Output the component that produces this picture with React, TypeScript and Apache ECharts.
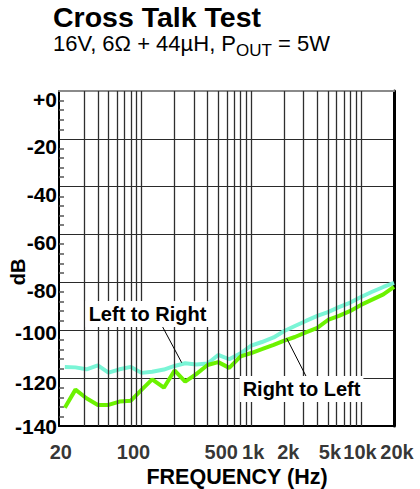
import React, { useEffect, useRef } from 'react';
import * as echarts from 'echarts';

// Frequencies (Hz), 1/10-decade points
const FREQS = [20, 25, 31.5, 40, 50, 63, 80, 100, 125, 160, 200, 250, 315, 400, 500, 630, 800, 1000, 1250, 1600, 2000, 2500, 3150, 4000, 5000, 6300, 8000, 10000, 12500, 16000, 20000];
// Cross talk (dB)
const LEFT_TO_RIGHT = [-115.3, -115.5, -116.3, -114.7, -117.7, -116.3, -115.3, -117.8, -117.3, -116.4, -114.9, -113.8, -114.3, -113.9, -110.3, -112.1, -109.6, -106.4, -104.9, -103.0, -100.3, -98.2, -96.1, -94.0, -92.4, -90.3, -88.4, -86.1, -84.0, -81.9, -80.2];
const RIGHT_TO_LEFT = [-132.4, -124.8, -128.4, -131.2, -131.2, -129.8, -129.4, -124.9, -120.5, -124.0, -116.8, -121.5, -118.3, -114.5, -113.3, -115.7, -110.9, -109.5, -107.9, -106.1, -104.3, -102.8, -100.9, -99.0, -95.7, -94.0, -91.9, -89.4, -87.3, -85.0, -81.9];

// Vertical grid lines (Hz)
const GRID_FREQS = [30, 40, 50, 60, 70, 80, 90, 100, 200, 300, 400, 500, 600, 700, 800, 900, 1000, 2000, 3000, 4000, 5000, 6000, 7000, 8000, 9000, 10000];
// X tick labels
const X_TICKS = [20, 100, 500, 1000, 2000, 5000, 10000, 20000];
const X_TICK_LABELS = ['20', '100', '500', '1k', '2k', '5k', '10k', '20k'];
// Y axis
const Y_MIN = -140;
const Y_MAX = 0;
const Y_STEP = 20;

// styling nudges (px)
const X_LABEL_NUDGE = [-4, -8, 3, 2, 4, 2, -1, 3];

const FONT = '"Liberation Sans", Arial, Helvetica, sans-serif';

function measure(text: string, size: number, weight = 'normal') {
  const ctx = document.createElement('canvas').getContext('2d')!;
  ctx.font = `${weight} ${size}px ${FONT}`;
  return ctx.measureText(text).width;
}

export default function App() {
  const ref = useRef<HTMLDivElement>(null);

  useEffect(() => {
    const el = ref.current!;
    const chart = echarts.init(el, null, { renderer: 'svg' });

    const lr = FREQS.map((f, i) => [f, LEFT_TO_RIGHT[i]]);
    const rl = FREQS.map((f, i) => [f, RIGHT_TO_LEFT[i]]);

    const sub1 = '16V, 6Ω + 44µH, P';
    const sub2 = 'OUT';
    const sub3 = ' = 5W';
    const w1 = measure(sub1, 22);
    const w2 = measure(sub2, 17);

    const yShift = (v: number) => {
      if (v >= -80) return 'a';
      if (v === -100) return 'b';
      if (v === -120) return 'c';
      return 'd';
    };
    const ylab = { fontFamily: FONT, fontWeight: 'bold' as const, fontSize: 21, color: '#000' };

    const option: any = {
      animation: false,
      backgroundColor: '#fff',
      grid: { left: 59, right: 26, top: 91, bottom: 63, containLabel: false },
      xAxis: [
        {
          type: 'log',
          logBase: 10,
          min: 17.7,
          max: 20000,
          axisLine: { show: true, onZero: false, lineStyle: { color: '#000', width: 2 } },
          axisTick: { show: false },
          axisLabel: { show: false },
          splitLine: { show: false },
          minorTick: { show: false },
          minorSplitLine: { show: false },
        },
        {
          type: 'log',
          logBase: 10,
          min: 17.7,
          max: 20000,
          position: 'top',
          axisLine: { show: true, onZero: false, lineStyle: { color: '#8a8a8a', width: 2 } },
          axisTick: { show: false },
          axisLabel: { show: false },
          splitLine: { show: false },
        },
      ],
      yAxis: [
        {
          type: 'value',
          min: Y_MIN,
          max: Y_MAX,
          interval: Y_STEP,
          axisLine: { show: true, onZero: false, lineStyle: { color: '#000', width: 2 } },
          axisTick: { show: false, inside: true },
          minorTick: { show: true, splitNumber: 5, length: 5, lineStyle: { color: '#555', width: 1.5 } },
          splitLine: { show: true, lineStyle: { color: '#2a2a2a', width: 1.2 } },
          axisLabel: {
            margin: 2,
            ...ylab,
            formatter: (v: number) => `{${yShift(v)}|${v === 0 ? '+0' : String(v)}}`,
            rich: {
              a: { ...ylab, padding: [16, 0, 0, 0] },
              b: { ...ylab, padding: [4, 0, 0, 0] },
              c: { ...ylab, padding: [8, 0, 0, 0] },
              d: { ...ylab },
            },
          },
        },
        {
          type: 'value',
          min: Y_MIN,
          max: Y_MAX,
          position: 'right',
          axisLine: { show: true, onZero: false, lineStyle: { color: '#000', width: 3 } },
          axisTick: { show: false },
          axisLabel: { show: false },
          splitLine: { show: false },
        },
      ],
      series: [
        {
          name: 'grid',
          type: 'line',
          data: [],
          z: 1,
          silent: true,
          markLine: {
            silent: true,
            symbol: ['none', 'none'],
            label: { show: false },
            emphasis: { disabled: true },
            lineStyle: { color: '#2e2e2e', width: 1.3, type: 'solid' },
            data: GRID_FREQS.map((f) => ({ xAxis: f })),
          },
        },
        {
          name: 'Left to Right',
          type: 'line',
          data: lr,
          showSymbol: false,
          symbol: 'none',
          z: 3,
          lineStyle: { color: '#7af5d6', width: 4 },
        },
        {
          name: 'Right to Left',
          type: 'line',
          data: rl,
          showSymbol: false,
          symbol: 'none',
          z: 4,
          lineStyle: { color: '#6cf200', width: 4 },
        },
        {
          name: 'xlabels',
          type: 'scatter',
          clip: false,
          silent: true,
          symbolSize: 1,
          itemStyle: { color: 'rgba(0,0,0,0)' },
          z: 5,
          label: {
            show: true,
            position: 'inside',
            fontFamily: FONT,
            fontWeight: 'bold',
            fontSize: 20,
            color: '#000',
            formatter: (p: any) => X_TICK_LABELS[p.dataIndex],
          },
          data: X_TICKS.map((f, i) => ({
            value: [f, Y_MIN],
            label: { offset: [X_LABEL_NUDGE[i], 25.5] },
          })),
        },
      ],
      graphic: [
        {
          type: 'text', z: 100, x: 53, y: 16.5,
          style: { text: 'Cross Talk Test', fontFamily: FONT, fontWeight: 'bold', fontSize: 28.5, fill: '#000', align: 'left', verticalAlign: 'middle' },
        },
        {
          type: 'text', z: 100, x: 53, y: 43.5,
          style: { text: sub1, fontFamily: FONT, fontSize: 22, fill: '#000', align: 'left', verticalAlign: 'middle' },
        },
        {
          type: 'text', z: 100, x: 53 + w1, y: 50.5,
          style: { text: sub2, fontFamily: FONT, fontSize: 17, fill: '#000', align: 'left', verticalAlign: 'middle' },
        },
        {
          type: 'text', z: 100, x: 53 + w1 + w2, y: 43.5,
          style: { text: sub3, fontFamily: FONT, fontSize: 22, fill: '#000', align: 'left', verticalAlign: 'middle' },
        },
        {
          type: 'text', z: 100, x: 17.5, y: 272, rotation: Math.PI / 2,
          style: { text: 'dB', fontFamily: FONT, fontWeight: 'bold', fontSize: 20, fill: '#000', align: 'center', verticalAlign: 'middle' },
        },
        {
          type: 'text', z: 100, x: 237, y: 477,
          style: { text: 'FREQUENCY (Hz)', fontFamily: FONT, fontWeight: 'bold', fontSize: 21.5, fill: '#000', align: 'center', verticalAlign: 'middle' },
        },
        {
          type: 'line', z: 100,
          shape: { x1: 160, y1: 322, x2: 181.7, y2: 362.7 },
          style: { stroke: '#000', lineWidth: 1 },
        },
        {
          type: 'line', z: 100,
          shape: { x1: 286.7, y1: 338.3, x2: 306.7, y2: 377.5 },
          style: { stroke: '#000', lineWidth: 1 },
        },
        {
          type: 'text', z: 101, x: 147.5, y: 314,
          style: { text: 'Left to Right', fontFamily: FONT, fontWeight: 'bold', fontSize: 20, fill: '#000', align: 'center', verticalAlign: 'middle', backgroundColor: '#fff', padding: [3, 3] },
        },
        {
          type: 'text', z: 101, x: 301.5, y: 389,
          style: { text: 'Right to Left', fontFamily: FONT, fontWeight: 'bold', fontSize: 20, fill: '#000', align: 'center', verticalAlign: 'middle', backgroundColor: '#fff', padding: [3, 3] },
        },
      ],
    };

    chart.setOption(option);
    return () => chart.dispose();
  }, []);

  return <div ref={ref} style={{ position: 'fixed', left: 0, top: 0, width: 420, height: 489, background: '#fff' }} />;
}
